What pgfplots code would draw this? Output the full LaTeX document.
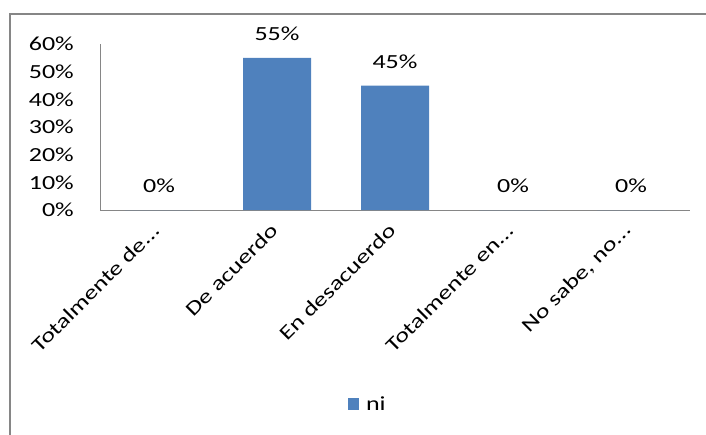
\documentclass[border=0pt]{standalone}
\usepackage{pgfplots}
\pgfplotsset{compat=1.18}
\usepackage{fontspec}
\setmainfont[FakeStretch=1.3]{Carlito}
\definecolor{barblue}{HTML}{4F81BD}
\definecolor{axgray}{HTML}{868686}
\newcommand{\lblfont}{\fontsize{20}{24}\selectfont}
\begin{document}
\begin{tikzpicture}[x=1pt,y=1pt]
\begin{axis}[
  at={(100pt,-210pt)}, anchor=south west,
  scale only axis, width=590pt, height=166pt,
  xmin=-0.5, xmax=4.5, ymin=0, ymax=60,
  axis x line*=bottom, axis y line*=left,
  axis line style={axgray, line width=1pt},
  xtick={0,1,2,3,4},
  xticklabels={{Totalmente de{.}{.}{.}},{De acuerdo},{En desacuerdo},{Totalmente en{.}{.}{.}},{No sabe, no{.}{.}{.}}},
  ytick={0,10,20,30,40,50,60},
  yticklabels={0\%,10\%,20\%,30\%,40\%,50\%,60\%},
  major tick length=0pt,
  /pgf/number format/assume math mode=true,
  tick label style={font=\lblfont, black},
  yticklabel style={anchor=east, inner sep=0pt, xshift=-26pt},
  xticklabel style={rotate=45, anchor=east, inner sep=0pt, xshift=-14pt, yshift=-10pt},
  ybar, bar width=68pt,
  nodes near coords={\pgfmathprintnumber{\pgfplotspointmeta}\%},
  nodes near coords style={font=\lblfont, anchor=south, inner sep=0pt, yshift=17pt, black},
  legend style={at={(0.454,-1.169)}, anchor=center, draw=none, font=\lblfont, fill=none},
  legend image code/.code={\fill[barblue] (0pt,-6pt) rectangle (11pt,6pt); \path (16pt,0pt);},
]
\addplot[fill=barblue, draw=none] coordinates {(0,0) (1,55) (2,45) (3,0) (4,0)};
\legend{ni}
\end{axis}
\draw[axgray, line width=2pt] (10pt,-440pt) -- (10pt,-14pt) -- (720pt,-14pt);
\pgfresetboundingbox
\useasboundingbox (0,0) rectangle (706pt,-435pt);
\end{tikzpicture}
\end{document}
